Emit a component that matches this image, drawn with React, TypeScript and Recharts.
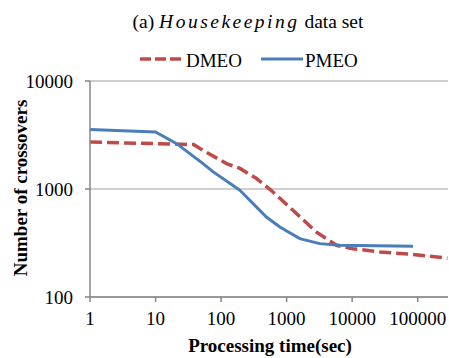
import React from "react";
import { LineChart, Line, XAxis, YAxis, CartesianGrid, Legend } from "recharts";

// values (log-log axes)
const pmeoTime = [1, 10, 21, 53, 76, 152, 194, 348, 492, 788, 1590, 3210, 6480, 85000];
const pmeoCount = [3550, 3370, 2630, 1720, 1440, 1080, 973, 680, 550, 445, 347, 312, 301, 295];

const dmeoTime = [1, 10, 38, 53, 121, 194, 348, 620, 1260, 2860, 5760, 10300, 26300, 85000, 245000, 285000];
const dmeoCount = [2720, 2630, 2580, 2280, 1720, 1550, 1250, 938, 632, 398, 301, 280, 261, 248, 232, 228];

const xTicks = [1, 10, 100, 1000, 10000, 100000];
const yTicks = [100, 1000, 10000];

const FONT = "Liberation Serif";
const RED = "#BE4B48";
const BLUE = "#4A7EBB";
const AXIS = "#868686";

const pmeo = pmeoTime.map((t, i) => ({ t, v: pmeoCount[i] }));
const dmeo = dmeoTime.map((t, i) => ({ t, v: dmeoCount[i] }));

const txt = { fontFamily: FONT, fontSize: 19, fill: "#000" };

function LegendBox() {
  return (
    <svg width={449} height={72} style={{ display: "block" }}>
      <line x1={140} y1={59} x2={183} y2={59} stroke={RED} strokeWidth={3.5} strokeDasharray="11 4" />
      <text x={186} y={67} style={txt}>DMEO</text>
      <line x1={261} y1={59} x2={303} y2={59} stroke={BLUE} strokeWidth={3} />
      <text x={305} y={67} style={txt}>PMEO</text>
    </svg>
  );
}

export default function App() {
  return (
    <div style={{ position: "absolute", left: 0, top: 0, width: 449, height: 358, background: "#fff" }}>
      <LineChart width={449} height={358} margin={{ top: 9, right: 1, bottom: 0, left: 0 }}>
        <CartesianGrid vertical={false} stroke="#BFBFBF" strokeWidth={1.5} />
        <XAxis
          type="number"
          dataKey="t"
          scale="log"
          domain={[1, 290000]}
          allowDataOverflow
          ticks={xTicks}
          height={61}
          stroke={AXIS}
          strokeWidth={1.5}
          tickSize={5}
          tickMargin={10}
          tick={{ fill: "#000", fontSize: 19, style: { fontFamily: FONT } }}
          label={() => (
            <text x={270} y={352} textAnchor="middle" style={{ ...txt, fontWeight: "bold" }}>
              Processing time(sec)
            </text>
          )}
        />
        <YAxis
          type="number"
          dataKey="v"
          scale="log"
          domain={[100, 10000]}
          allowDataOverflow
          ticks={yTicks}
          width={90}
          stroke={AXIS}
          strokeWidth={1.5}
          tickSize={5}
          tickMargin={12}
          tick={{ fill: "#000", fontSize: 19, style: { fontFamily: FONT } }}
          label={() => (
            <text
              x={27}
              y={188}
              transform="rotate(-90 27 188)"
              textAnchor="middle"
              style={{ ...txt, fontWeight: "bold" }}
            >
              Number of crossovers
            </text>
          )}
        />
        <Legend
          verticalAlign="top"
          content={() => <LegendBox />}
          wrapperStyle={{ top: 0, left: 0, width: 449, height: 72 }}
        />
        <Line data={dmeo} dataKey="v" name="DMEO" stroke={RED} strokeWidth={3.5} strokeDasharray="12 5" dot={false} isAnimationActive={false} />
        <Line data={pmeo} dataKey="v" name="PMEO" stroke={BLUE} strokeWidth={3} dot={false} isAnimationActive={false} />
      </LineChart>
      <svg width={449} height={40} style={{ position: "absolute", left: 0, top: 0 }}>
        <text x={248} y={28} textAnchor="middle" style={{ ...txt, fontSize: 19.5 }}>
          (a){" "}
          <tspan fontStyle="italic" letterSpacing={2.5}>
            Housekeeping
          </tspan>{" "}
          data set
        </text>
      </svg>
    </div>
  );
}
